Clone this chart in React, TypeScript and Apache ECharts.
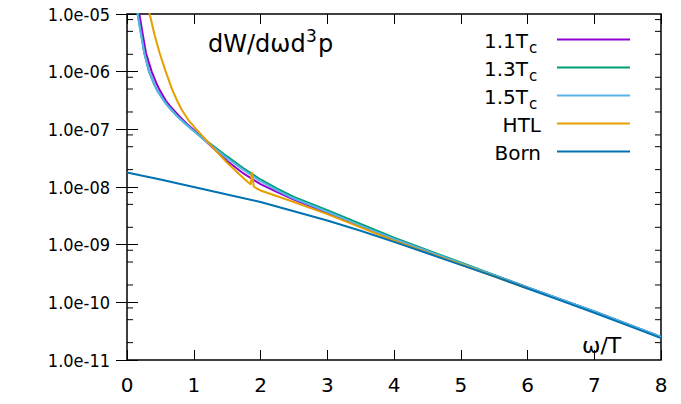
import { useEffect, useRef } from "react";
import * as echarts from "echarts";

const FONT = "DejaVu Sans";
const FONT_NARROW = "'DejaVu Sans Condensed', 'DejaVu Sans'";

// omega/T axis
const X_MIN = 0;
const X_MAX = 8;
const xTickValues = [0, 1, 2, 3, 4, 5, 6, 7, 8];

// dW/dωd³p axis (log10)
const Y_MIN = 1e-11;
const Y_MAX = 1e-5;
const minorMantissas = [2, 5, 8];

// Rate at 1.1 Tc
const rate11: [number, number][] = [
  [0.14, 2.51e-5], [0.185, 1.0e-5], [0.225, 5.25e-6], [0.285, 2.09e-6],
  [0.37, 1.0e-6], [0.44, 6.31e-7], [0.49, 4.79e-7], [0.58, 3.16e-7],
  [0.67, 2.34e-7], [0.78, 1.7e-7], [0.89, 1.26e-7], [0.99, 1.0e-7],
  [1.1, 7.59e-8], [1.25, 5.25e-8], [1.5, 2.82e-8], [1.75, 1.7e-8],
  [2.0, 1.12e-8], [2.25, 8.13e-9], [2.5, 6.03e-9], [3.0, 3.55e-9],
  [3.5, 2.09e-9], [4.0, 1.23e-9], [5.0, 4.68e-10], [6.0, 1.82e-10],
  [7.0, 6.92e-11], [8.0, 2.51e-11],
];

// Rate at 1.3 Tc
const rate13: [number, number][] = [
  [0.12, 3.16e-5], [0.16, 1.0e-5], [0.2, 5.25e-6], [0.26, 2.09e-6],
  [0.33, 1.0e-6], [0.4, 6.31e-7], [0.45, 4.79e-7], [0.55, 3.16e-7],
  [0.64, 2.34e-7], [0.75, 1.7e-7], [0.87, 1.26e-7], [0.97, 1.0e-7],
  [1.1, 7.59e-8], [1.25, 5.62e-8], [1.5, 3.39e-8], [1.75, 2.09e-8],
  [2.0, 1.35e-8], [2.25, 9.33e-9], [2.5, 6.76e-9], [3.0, 3.98e-9],
  [3.5, 2.29e-9], [4.0, 1.32e-9], [5.0, 4.9e-10], [6.0, 1.82e-10],
  [7.0, 6.92e-11], [8.0, 2.51e-11],
];

// Rate at 1.5 Tc
const rate15: [number, number][] = [
  [0.12, 3.16e-5], [0.16, 1.0e-5], [0.2, 5.25e-6], [0.26, 2.09e-6],
  [0.33, 1.0e-6], [0.4, 6.31e-7], [0.45, 4.79e-7], [0.55, 3.16e-7],
  [0.64, 2.34e-7], [0.75, 1.7e-7], [0.87, 1.26e-7], [0.97, 1.0e-7],
  [1.1, 7.41e-8], [1.25, 5.37e-8], [1.5, 3.16e-8], [1.75, 1.95e-8],
  [2.0, 1.26e-8], [2.25, 8.71e-9], [2.5, 6.31e-9], [3.0, 3.72e-9],
  [3.5, 2.14e-9], [4.0, 1.26e-9], [5.0, 4.79e-10], [6.0, 1.82e-10],
  [7.0, 6.92e-11], [8.0, 2.51e-11],
];

// Hard-thermal-loop rate
const rateHTL: [number, number][] = [
  [0.3, 1.78e-5], [0.34, 1.0e-5], [0.41, 4.47e-6], [0.49, 2.09e-6],
  [0.58, 1.0e-6], [0.68, 4.79e-7], [0.75, 3.16e-7], [0.82, 2.19e-7],
  [0.92, 1.45e-7], [1.04, 1.0e-7], [1.15, 7.24e-8], [1.25, 5.37e-8],
  [1.5, 2.63e-8], [1.75, 1.41e-8], [1.855, 1.1e-8], [1.87, 1.82e-8],
  [1.9, 1.02e-8], [1.95, 9.33e-9], [2.0, 8.71e-9], [2.25, 6.92e-9],
  [2.5, 5.5e-9], [3.0, 3.39e-9], [3.5, 2.0e-9], [4.0, 1.17e-9],
  [5.0, 4.57e-10], [6.0, 1.74e-10],
];

// Born rate
const rateBorn: [number, number][] = [
  [0.0, 1.78e-8], [0.5, 1.35e-8], [1.0, 1.0e-8], [1.5, 7.41e-9],
  [2.0, 5.5e-9], [2.5, 3.8e-9], [3.0, 2.63e-9], [3.5, 1.74e-9],
  [4.0, 1.12e-9], [4.5, 7.08e-10], [5.0, 4.47e-10], [5.5, 2.82e-10],
  [6.0, 1.74e-10], [6.5, 1.07e-10], [7.0, 6.61e-11], [7.5, 3.98e-11],
  [8.0, 2.4e-11],
];

const seriesDefs = [
  { main: "1.1T", sub: "c", color: "#9400d3", data: rate11 },
  { main: "1.3T", sub: "c", color: "#009e73", data: rate13 },
  { main: "1.5T", sub: "c", color: "#56b4e9", data: rate15 },
  { main: "HTL", sub: "", color: "#e69f00", data: rateHTL },
  { main: "Born", sub: "", color: "#0072b2", data: rateBorn },
];

function expLabel(v: number): string {
  const e = Math.round(Math.log10(v));
  const sign = e < 0 ? "-" : "+";
  return `1.0e${sign}${String(Math.abs(e)).padStart(2, "0")}`;
}

function txt(
  text: string,
  x: number,
  y: number,
  size: number,
  align: "left" | "right" | "center" = "left"
) {
  return {
    type: "text",
    x,
    y,
    silent: true,
    style: {
      text,
      fill: "#000",
      fontFamily: FONT,
      fontSize: size,
      align,
      textAlign: align,
      verticalAlign: "middle",
      textVerticalAlign: "middle",
    },
  };
}

export default function App() {
  const ref = useRef<HTMLDivElement>(null);

  useEffect(() => {
    if (!ref.current) return;
    const chart = echarts.init(ref.current, null, { renderer: "svg" });

    const tickStyle = { color: "#000", width: 1 };
    const xAxisBase = {
      type: "value",
      min: X_MIN,
      max: X_MAX,
      interval: 1,
      splitLine: { show: false },
      axisLine: { show: false },
      axisTick: { show: true, inside: true, length: 10, lineStyle: tickStyle },
    };
    const yAxisBase = {
      type: "log",
      logBase: 10,
      min: Y_MIN,
      max: Y_MAX,
      splitLine: { show: false },
      axisLine: { show: false },
      axisTick: { show: true, inside: true, length: 11, lineStyle: tickStyle },
    };

    chart.setOption({
      animation: false,
      backgroundColor: "#fff",
      grid: {
        left: 127,
        right: 20,
        top: 14,
        bottom: 44,
        show: true,
        borderColor: "#000",
        borderWidth: 1.5,
        backgroundColor: "transparent",
      },
      xAxis: [
        {
          ...xAxisBase,
          position: "bottom",
          axisLabel: {
            show: true,
            margin: 15,
            color: "#000",
            fontFamily: FONT,
            fontSize: 20,
            formatter: (v: number) =>
              xTickValues.includes(v) ? String(v) : "",
          },
        },
        { ...xAxisBase, position: "top", axisLabel: { show: false } },
      ],
      yAxis: [
        {
          ...yAxisBase,
          position: "left",
          axisLabel: {
            show: true,
            margin: 17,
            color: "#000",
            fontFamily: FONT_NARROW,
            fontSize: 18,
            formatter: (v: number) => expLabel(v),
          },
        },
        { ...yAxisBase, position: "right", axisLabel: { show: false } },
      ],
      series: seriesDefs.map((s) => ({
        name: s.main + s.sub,
        type: "line",
        xAxisIndex: 0,
        yAxisIndex: 0,
        data: s.data,
        showSymbol: false,
        symbol: "none",
        clip: true,
        smooth: false,
        lineStyle: { color: s.color, width: 2 },
        itemStyle: { color: s.color },
        emphasis: { disabled: true },
      })),
    });

    // Minor ticks at 2, 5 and 8 of each decade, on both vertical borders
    const left = chart.convertToPixel({ xAxisIndex: 0 }, X_MIN) as number;
    const right = chart.convertToPixel({ xAxisIndex: 0 }, X_MAX) as number;
    const minorTicks: any[] = [];
    const eLo = Math.round(Math.log10(Y_MIN));
    const eHi = Math.round(Math.log10(Y_MAX));
    for (let e = eLo; e < eHi; e++) {
      for (const m of minorMantissas) {
        const y = chart.convertToPixel(
          { yAxisIndex: 0 },
          m * Math.pow(10, e)
        ) as number;
        minorTicks.push(
          {
            type: "line",
            silent: true,
            shape: { x1: left, y1: y, x2: left + 6, y2: y },
            style: { stroke: "#000", lineWidth: 1 },
          },
          {
            type: "line",
            silent: true,
            shape: { x1: right - 6, y1: y, x2: right, y2: y },
            style: { stroke: "#000", lineWidth: 1 },
          }
        );
      }
    }

    // Key: labels right-aligned, line samples to their right
    const key: any[] = [];
    seriesDefs.forEach((s, i) => {
      const rowY = 39.5 + i * 28;
      if (s.sub) {
        key.push(txt(s.main, 528, rowY + 1, 20, "right"));
        key.push(txt(s.sub, 529, rowY + 8, 15, "left"));
      } else {
        key.push(txt(s.main, 541, rowY + 1, 20, "right"));
      }
      key.push({
        type: "line",
        silent: true,
        shape: { x1: 557, y1: rowY, x2: 630, y2: rowY },
        style: { stroke: s.color, lineWidth: 2 },
      });
    });

    const titles = [
      txt("dW/dωd", 208, 44, 24, "left"),
      txt("3", 306, 36, 17, "left"),
      txt("p", 318, 44, 24, "left"),
      txt("ω/T", 582, 345, 22, "left"),
    ];

    chart.setOption({ graphic: [...minorTicks, ...key, ...titles] });

    return () => chart.dispose();
  }, []);

  return (
    <div
      ref={ref}
      style={{ position: "fixed", left: 0, top: 0, width: 681, height: 404 }}
    />
  );
}
